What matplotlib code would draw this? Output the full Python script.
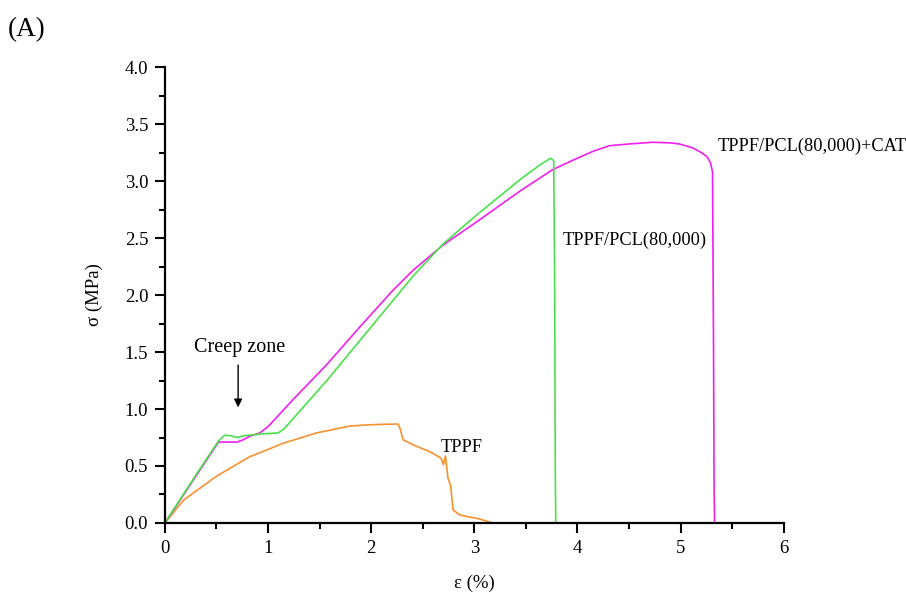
import matplotlib.pyplot as plt
from matplotlib.ticker import MultipleLocator

plt.rcParams['font.family'] = ['Liberation Serif', 'DejaVu Serif']

# TPPF/PCL(80,000)
green_x = [0, 0.30, 0.52, 0.58, 0.64, 0.70, 0.76, 0.82, 0.92, 1.00, 1.10, 1.16,
           1.57, 1.89, 2.21, 2.41, 2.70, 3.02, 3.44, 3.65, 3.74, 3.77, 3.78, 3.785, 3.79]
green_y = [0, 0.42, 0.72, 0.77, 0.765, 0.75, 0.765, 0.77, 0.78, 0.785, 0.79, 0.83,
           1.25, 1.60, 1.95, 2.17, 2.45, 2.70, 3.01, 3.15, 3.20, 3.18, 2.0, 0.5, 0.0]

# TPPF/PCL(80,000)+CAT
mag_x = [0, 0.30, 0.52, 0.56, 0.70, 0.76, 0.82, 0.92, 1.00, 1.24, 1.57, 1.89, 2.21,
         2.41, 2.70, 3.02, 3.44, 3.76, 3.95, 4.15, 4.31, 4.50, 4.73, 4.90, 4.99,
         5.12, 5.21, 5.26, 5.29, 5.31, 5.32, 5.325, 5.33]
mag_y = [0, 0.41, 0.71, 0.71, 0.71, 0.73, 0.76, 0.79, 0.845, 1.08, 1.39, 1.72, 2.04,
         2.22, 2.44, 2.64, 2.91, 3.10, 3.18, 3.26, 3.31, 3.325, 3.34, 3.335, 3.325,
         3.29, 3.245, 3.21, 3.16, 3.08, 1.5, 0.3, 0.0]

# TPPF
org_x = [0, 0.18, 0.50, 0.82, 1.15, 1.47, 1.79, 1.95, 2.12, 2.26, 2.28, 2.31, 2.41,
         2.57, 2.68, 2.70, 2.72, 2.73, 2.745, 2.77, 2.795, 2.86, 3.05, 3.17]
org_y = [0, 0.20, 0.41, 0.58, 0.70, 0.79, 0.85, 0.86, 0.866, 0.868, 0.83, 0.73, 0.684,
         0.625, 0.567, 0.51, 0.588, 0.509, 0.392, 0.333, 0.114, 0.07, 0.035, 0.003]

fig = plt.figure(figsize=(9.06, 5.96), dpi=100)
ax = fig.add_axes([0.182, 0.1225, 0.683, 0.765])

ax.plot(org_x, org_y, color='#f5922f', lw=1.2)
ax.plot(mag_x, mag_y, color='#f020f0', lw=1.2)
ax.plot(green_x, green_y, color='#4ce04c', lw=1.2)

ax.set_xlim(0, 6)
ax.set_ylim(0, 4.0)
ax.xaxis.set_major_locator(MultipleLocator(1))
ax.xaxis.set_minor_locator(MultipleLocator(0.5))
ax.yaxis.set_major_locator(MultipleLocator(0.5))
ax.yaxis.set_minor_locator(MultipleLocator(0.25))
ax.yaxis.set_major_formatter(plt.FormatStrFormatter('%.1f'))
ax.tick_params(which='major', direction='out', length=7, width=1.5, labelsize=13.5, pad=5)
ax.tick_params(which='minor', direction='out', length=4.5, width=1.5)
for s in ['top', 'right']:
    ax.spines[s].set_visible(False)
for s in ['left', 'bottom']:
    ax.spines[s].set_linewidth(1.6)

ax.set_xlabel('ε (%)', fontsize=13.5, labelpad=13)
ax.set_ylabel('σ (MPa)', fontsize=13.5, labelpad=16)

ax.text(0.72, 1.54, 'Creep zone', fontsize=14.5, ha='center', va='center')
ax.annotate('', xy=(0.71, 0.99), xytext=(0.71, 1.41),
            arrowprops=dict(arrowstyle='-|>', color='black', lw=1.0, mutation_scale=12))
ax.text(3.86, 2.48, 'TPPF/PCL(80,000)', fontsize=13.2, ha='left', va='center')
ax.text(5.36, 3.30, 'TPPF/PCL(80,000)+CAT', fontsize=13.2, ha='left', va='center')
ax.text(2.67, 0.66, 'TPPF', fontsize=13.2, ha='left', va='center')

fig.text(0.009, 0.95, '(A)', fontsize=19.5, ha='left', va='center')

fig.savefig('out.png', dpi=100)
